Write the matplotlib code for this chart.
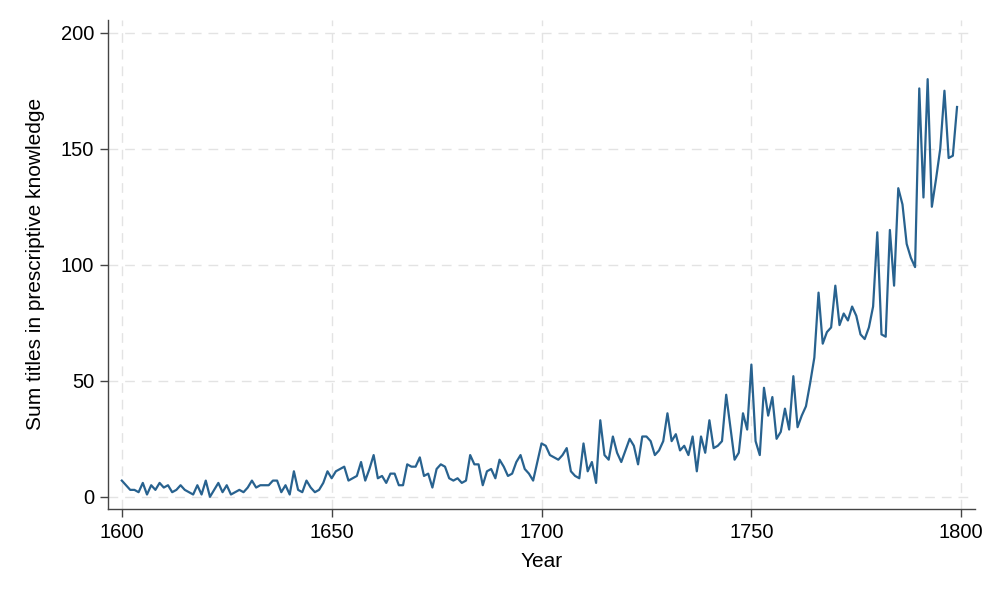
import numpy as np
import matplotlib
matplotlib.use("Agg")
import matplotlib.pyplot as plt

plt.rcParams["font.family"] = ["Liberation Sans", "DejaVu Sans"]

# yearly totals, 1600-1799
years = list(range(1600, 1800))
titles = [
    # 1600-1649
    7, 5, 3, 3, 2, 6, 1, 5, 3, 6, 4, 5, 2, 3, 5, 3, 2, 1, 5, 1,
    7, 0, 3, 6, 2, 5, 1, 2, 3, 2, 4, 7, 4, 5, 5, 5, 7, 7, 2, 5,
    1, 11, 3, 2, 7, 4, 2, 3, 6, 11,
    # 1650-1699
    8, 11, 12, 13, 7, 8, 9, 15, 7, 12, 18, 8, 9, 6, 10, 10, 5, 5, 14, 13,
    13, 17, 9, 10, 4, 12, 14, 13, 8, 7, 8, 6, 7, 18, 14, 14, 5, 11, 12, 8,
    16, 13, 9, 10, 15, 18, 12, 10, 7, 15,
    # 1700-1749
    23, 22, 18, 17, 16, 18, 21, 11, 9, 8, 23, 11, 15, 6, 33, 18, 16, 26, 19, 15,
    20, 25, 22, 14, 26, 26, 24, 18, 20, 24, 36, 24, 27, 20, 22, 18, 26, 11, 26, 19,
    33, 21, 22, 24, 44, 30, 16, 19, 36, 29,
    # 1750-1799
    57, 24, 18, 47, 35, 43, 25, 28, 38, 29, 52, 30, 35, 39, 49, 60, 88, 66, 71, 73,
    91, 74, 79, 76, 82, 78, 70, 68, 73, 82, 114, 70, 69, 115, 91, 133, 126, 109, 103, 99,
    176, 129, 180, 125, 137, 150, 175, 146, 147, 168,
]

xticks = [1600, 1650, 1700, 1750, 1800]
yticks = [0, 50, 100, 150, 200]

fig = plt.figure(figsize=(9.96, 5.98), dpi=100, facecolor="white")
ax = fig.add_axes([0.1084, 0.149, 0.8706, 0.818])

ax.plot(years, titles, color="#28628f", linewidth=1.6, zorder=3)

ax.set_xlim(1596.7, 1803.3)
ax.set_ylim(-5.2, 205.6)
ax.set_xticks(xticks)
ax.set_yticks(yticks)

ax.grid(True, color="#e3e3e3", linewidth=1.0, linestyle=(0, (7, 5)), zorder=0)
ax.set_axisbelow(True)

for s in ["top", "right"]:
    ax.spines[s].set_visible(False)
for s in ["left", "bottom"]:
    ax.spines[s].set_color("#444444")
    ax.spines[s].set_linewidth(1.0)

ax.tick_params(axis="both", direction="out", length=6, width=1.0,
               color="#444444", labelsize=14.5, labelcolor="black", pad=4)

ax.set_xlabel("Year", fontsize=15, labelpad=7)
ax.set_ylabel("Sum titles in prescriptive knowledge", fontsize=15, labelpad=11)

fig.savefig("out.png", dpi=100, facecolor="white")
